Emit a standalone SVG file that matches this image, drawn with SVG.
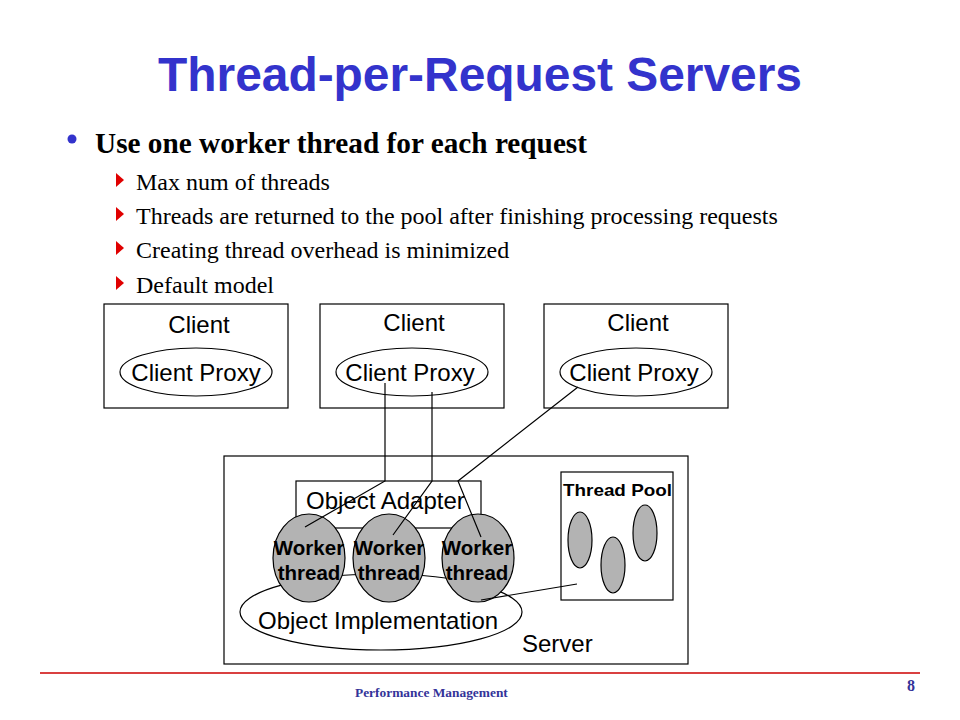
<svg xmlns="http://www.w3.org/2000/svg" width="960" height="720" viewBox="0 0 960 720">
<style>
.box{fill:#fff;stroke:#000;stroke-width:1.2}
.ell{fill:#fff;stroke:#000;stroke-width:1.2}
.gray{fill:#b3b3b3;stroke:#000;stroke-width:1.2}
.conn{stroke:#000;stroke-width:1.2;fill:none}
.a{font-family:"Liberation Sans",Arial,sans-serif;fill:#000}
.t{font-family:"Liberation Serif","Times New Roman",serif;fill:#000}
.w{font-family:"Liberation Sans",Arial,sans-serif;font-weight:bold;font-size:20.5px;text-anchor:middle}
.tri{fill:#e00000}
</style>
<rect width="960" height="720" fill="#fff"/>
<text x="480" y="91" text-anchor="middle" font-family="Liberation Sans,Arial,sans-serif" font-weight="bold" font-size="48" fill="#3333cc" textLength="644" lengthAdjust="spacingAndGlyphs">Thread-per-Request Servers</text>
<circle cx="72" cy="139" r="4.5" fill="#3333cc"/>
<text class="t" x="95" y="153" font-size="29" font-weight="bold" textLength="492" lengthAdjust="spacingAndGlyphs">Use one worker thread for each request</text>
<g class="tri">
<polygon points="116,173 124,180 116,187"/>
<polygon points="116,207 124,214 116,221"/>
<polygon points="116,241 124,248 116,255"/>
<polygon points="116,276 124,283 116,290"/>
</g>
<g class="t" font-size="24">
<text x="136" y="190">Max num of threads</text>
<text x="136" y="224">Threads are returned to the pool after finishing processing requests</text>
<text x="136" y="258">Creating thread overhead is minimized</text>
<text x="136" y="293">Default model</text>
</g>
<g id="client1">
<rect class="box" x="104" y="304" width="184" height="104"/>
<text class="a" x="199" y="333" font-size="24" text-anchor="middle">Client</text>
<ellipse class="ell" cx="196" cy="372" rx="76" ry="24"/>
<text class="a" x="196" y="381" font-size="24" text-anchor="middle">Client Proxy</text>
</g>
<g id="client2">
<rect class="box" x="320" y="304" width="184" height="104"/>
<text class="a" x="414" y="331" font-size="24" text-anchor="middle">Client</text>
<ellipse class="ell" cx="412" cy="372" rx="76" ry="24"/>
<text class="a" x="410" y="381" font-size="24" text-anchor="middle">Client Proxy</text>
</g>
<g id="client3">
<rect class="box" x="544" y="304" width="184" height="104"/>
<text class="a" x="638" y="331" font-size="24" text-anchor="middle">Client</text>
<ellipse class="ell" cx="636" cy="372" rx="76" ry="24"/>
<text class="a" x="634" y="381" font-size="24" text-anchor="middle">Client Proxy</text>
</g>
<g id="server">
<rect class="box" x="224" y="456" width="464" height="208"/>
<text class="a" x="522" y="652" font-size="24">Server</text>
</g>
<g id="object-implementation">
<ellipse class="ell" cx="381" cy="612" rx="141" ry="38"/>
<text class="a" x="258" y="629" font-size="24">Object Implementation</text>
</g>
<g id="object-adapter">
<rect class="box" x="296" y="481" width="185" height="47"/>
<text class="a" x="306" y="509" font-size="24">Object Adapter</text>
</g>
<g id="worker1">
<ellipse class="gray" cx="309" cy="558" rx="36" ry="44"/>
<text class="a w" x="309" y="555">Worker</text>
<text class="a w" x="309" y="580">thread</text>
</g>
<g id="worker2">
<ellipse class="gray" cx="389" cy="558" rx="36" ry="44"/>
<text class="a w" x="389" y="555">Worker</text>
<text class="a w" x="389" y="580">thread</text>
</g>
<g id="worker3">
<ellipse class="gray" cx="478" cy="558" rx="36" ry="44"/>
<text class="a w" x="477" y="555">Worker</text>
<text class="a w" x="477" y="580">thread</text>
</g>
<g id="thread-pool">
<rect class="box" x="561" y="472" width="112" height="128"/>
<text class="a" x="563" y="496" font-size="17" font-weight="bold" textLength="109" lengthAdjust="spacingAndGlyphs">Thread Pool</text>
<ellipse class="gray" cx="580" cy="540" rx="12" ry="28"/>
<ellipse class="gray" cx="613" cy="565" rx="12" ry="28"/>
<ellipse class="gray" cx="645" cy="533" rx="12" ry="28"/>
</g>
<g id="connectors">
<polyline class="conn" points="385,383 385,481 305,527"/>
<polyline class="conn" points="432,392 432,481 393,535"/>
<polyline class="conn" points="578,387 458,481 481,537"/>
<line class="conn" x1="481" y1="600" x2="577" y2="584"/>
</g>
<line x1="40" y1="673" x2="920" y2="673" stroke="#cc0000" stroke-width="1.4"/>
<text x="355" y="697" font-family="Liberation Serif,Times New Roman,serif" font-weight="bold" font-size="13.4" fill="#333399">Performance Management</text>
<text x="907" y="691" font-family="Liberation Serif,Times New Roman,serif" font-weight="bold" font-size="16" fill="#333399">8</text>
</svg>
